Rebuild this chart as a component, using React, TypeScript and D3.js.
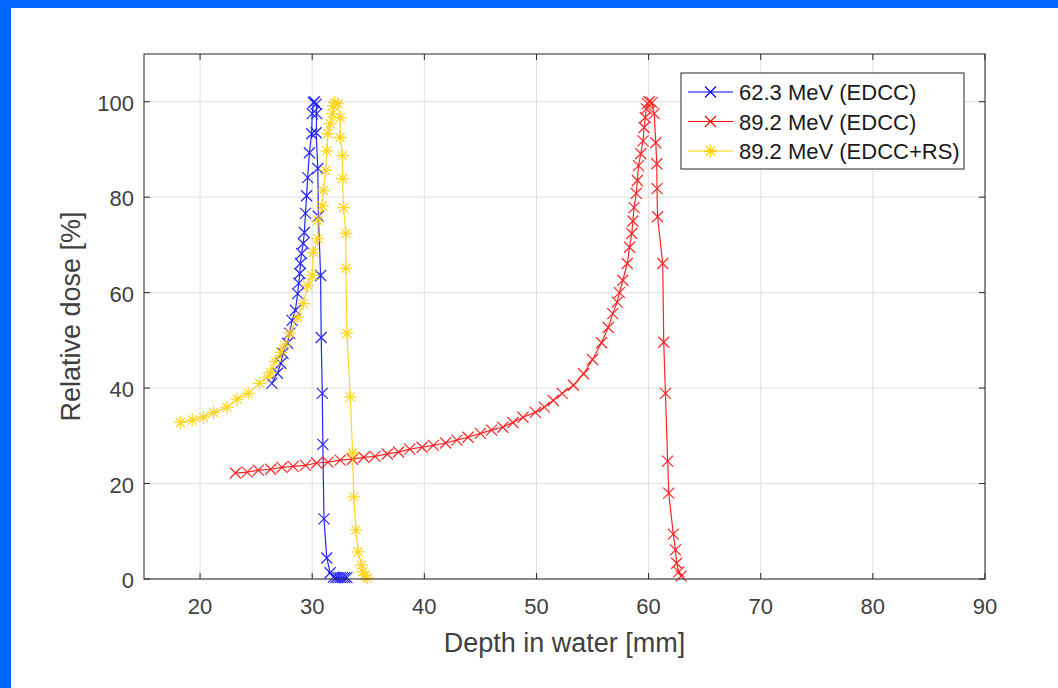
import React from "react";
import * as d3 from "d3";

const xTicks = [20, 30, 40, 50, 60, 70, 80, 90];
const yTicks = [0, 20, 40, 60, 80, 100];

const blue623: [number, number][] = [
  [26.4, 41.0], [26.9, 43.1], [27.2, 45.2], [27.4, 47.3], [27.8, 49.4], [28.0, 51.5],
  [28.2, 54.2], [28.5, 56.3], [28.7, 59.8], [28.8, 62.0], [28.9, 64.0], [28.95, 66.1],
  [29.05, 68.2], [29.2, 70.3], [29.3, 72.6], [29.4, 76.6], [29.5, 80.3], [29.6, 84.1],
  [29.75, 89.3], [29.95, 93.3], [30.0, 97.5], [30.1, 99.8], [30.2, 100.0],
  [30.35, 99.5], [30.4, 97.5], [30.35, 93.5], [30.5, 86.0], [30.55, 76.0],
  [30.75, 63.6], [30.8, 50.6], [30.9, 38.9], [30.95, 28.2], [31.05, 12.6],
  [31.3, 4.4], [31.6, 1.3], [31.9, 0.4], [32.1, 0.3], [32.3, 0.3], [32.5, 0.3],
  [32.7, 0.3], [32.9, 0.3], [33.1, 0.3],
];

const red892: [number, number][] = [
  [23.15, 22.2], [24.2, 22.4], [25.2, 22.8], [26.3, 23.0], [27.3, 23.4], [28.3, 23.6],
  [29.4, 23.8], [30.4, 24.3], [31.4, 24.5], [32.5, 24.9], [33.6, 25.1], [34.6, 25.5],
  [35.6, 25.7], [36.7, 26.2], [37.7, 26.6], [38.7, 27.2], [39.8, 27.6], [40.8, 28.0],
  [41.9, 28.5], [42.9, 29.1], [43.9, 29.7], [45.0, 30.5], [46.0, 31.2], [47.0, 31.8],
  [47.9, 32.8], [48.8, 33.9], [49.9, 34.9], [50.7, 36.0], [51.5, 37.4], [52.3, 38.9],
  [53.3, 40.6], [54.2, 43.0], [55.0, 46.0], [55.8, 49.5], [56.4, 52.7], [56.8, 55.6],
  [57.2, 58.0], [57.4, 60.0], [57.7, 62.6], [58.1, 66.1], [58.3, 69.5], [58.5, 72.4],
  [58.6, 75.0], [58.7, 77.8], [58.9, 80.8], [59.0, 83.5], [59.1, 86.6], [59.3, 89.1],
  [59.5, 91.8], [59.6, 94.6], [59.7, 96.7], [59.8, 98.5], [59.9, 99.6], [60.05, 100.0],
  [60.3, 99.8], [60.5, 97.5], [60.64, 91.4], [60.73, 87.0], [60.75, 81.8], [60.8, 75.9],
  [61.26, 66.1], [61.35, 49.6], [61.5, 38.9], [61.7, 24.7], [61.8, 18.0], [62.2, 9.4],
  [62.4, 6.1], [62.5, 3.3], [62.7, 1.5], [62.9, 0.6],
];

const yellow892rs: [number, number][] = [
  [18.25, 32.8], [19.3, 33.3], [20.3, 33.9], [21.2, 34.9], [22.4, 36.0], [23.3, 37.7],
  [24.3, 38.9], [25.3, 41.0], [26.0, 42.3], [26.3, 43.3], [26.7, 45.6], [27.2, 47.5],
  [27.6, 49.0], [28.0, 51.5], [28.7, 54.8], [29.2, 57.7], [29.6, 61.5], [30.0, 63.6],
  [30.1, 68.4], [30.5, 71.3], [30.5, 75.1], [30.9, 78.2], [31.0, 81.4], [31.2, 85.6],
  [31.3, 89.7], [31.4, 93.3], [31.6, 95.4], [31.8, 97.5], [31.9, 99.2], [32.0, 99.8],
  [32.3, 99.6], [32.5, 96.7], [32.5, 92.5], [32.7, 88.7], [32.7, 83.9], [32.8, 77.8],
  [33.0, 72.4], [33.0, 65.1], [33.1, 51.5], [33.4, 38.1], [33.6, 26.4], [33.7, 17.2],
  [33.9, 10.3], [34.1, 5.7], [34.4, 2.9], [34.5, 1.5], [34.7, 0.8], [34.9, 0.2],
];

const seriesNames = ["62.3 MeV (EDCC)", "89.2 MeV (EDCC)", "89.2 MeV (EDCC+RS)"];
const seriesColors = ["#0000ff", "#ff0000", "#ffd000"];
const seriesMarkers = ["x", "x", "star"];
const seriesData = [blue623, red892, yellow892rs];

const W = 1058;
const H = 688;
const L = 144, R = 985, T = 54, B = 579;

const xScale = d3.scaleLinear().domain([15, 90]).range([L, R]);
const yScale = d3.scaleLinear().domain([0, 110]).range([B, T]);
const lineGen = d3.line<[number, number]>().x(d => xScale(d[0])).y(d => yScale(d[1]));

function Marker({ x, y, type, color }: { x: number; y: number; type: string; color: string }) {
  const s = 5.5;
  if (type === "x") {
    return (
      <path d={`M${x - s},${y - s}L${x + s},${y + s}M${x - s},${y + s}L${x + s},${y - s}`}
        stroke={color} strokeWidth={1.2} fill="none" />
    );
  }
  const d = 4.5;
  return (
    <path d={`M${x - s - 1},${y}L${x + s + 1},${y}M${x},${y - s - 1}L${x},${y + s + 1}M${x - d},${y - d}L${x + d},${y + d}M${x - d},${y + d}L${x + d},${y - d}`}
      stroke={color} strokeWidth={1.3} fill="none" />
  );
}

export default function App() {
  const font = "'Liberation Sans', Arial, Helvetica, sans-serif";
  const axisColor = "#262626";
  const textColor = "#404040";
  const legX = 681, legY = 73, legW = 283, legH = 96;
  return (
    <svg width={W} height={H} style={{ position: "absolute", left: 0, top: 0 }} fontFamily={font}>
      <rect x={0} y={0} width={W} height={H} fill="#ffffff" />
      <rect x={0} y={0} width={W} height={8} fill="#0066ff" />
      <rect x={0} y={0} width={11} height={H} fill="#0066ff" />
      {/* grid */}
      {xTicks.map(t => (
        <line key={"gx" + t} x1={xScale(t)} x2={xScale(t)} y1={T} y2={B} stroke="#dfdfdf" strokeWidth={1} />
      ))}
      {yTicks.map(t => (
        <line key={"gy" + t} x1={L} x2={R} y1={yScale(t)} y2={yScale(t)} stroke="#dfdfdf" strokeWidth={1} />
      ))}
      {/* data */}
      <g>
        {seriesData.map((data, i) => (
          <g key={"s" + i} opacity={0.85}>
            <path d={lineGen(data) || ""} fill="none" stroke={seriesColors[i]} strokeWidth={1.2} />
            {data.map((p, j) => (
              <Marker key={j} x={xScale(p[0])} y={yScale(p[1])} type={seriesMarkers[i]} color={seriesColors[i]} />
            ))}
          </g>
        ))}
      </g>
      {/* axes box */}
      <rect x={L} y={T} width={R - L} height={B - T} fill="none" stroke={axisColor} strokeWidth={1} />
      {xTicks.map(t => (
        <g key={"tx" + t}>
          <line x1={xScale(t)} x2={xScale(t)} y1={B} y2={B - 6} stroke={axisColor} />
          <line x1={xScale(t)} x2={xScale(t)} y1={T} y2={T + 6} stroke={axisColor} />
          <text x={xScale(t)} y={614} textAnchor="middle" fontSize={22} fill={textColor}>{t}</text>
        </g>
      ))}
      {yTicks.map(t => (
        <g key={"ty" + t}>
          <line x1={L} x2={L + 6} y1={yScale(t)} y2={yScale(t)} stroke={axisColor} />
          <line x1={R} x2={R - 6} y1={yScale(t)} y2={yScale(t)} stroke={axisColor} />
          <text x={134} y={yScale(t) + 9} textAnchor="end" fontSize={22} fill={textColor}>{t}</text>
        </g>
      ))}
      <text x={(L + R) / 2} y={652} textAnchor="middle" fontSize={27} fill={textColor}>Depth in water [mm]</text>
      <text transform={`translate(80,${(T + B) / 2}) rotate(-90)`} textAnchor="middle" fontSize={27} fill={textColor}>Relative dose [%]</text>
      {/* legend */}
      <rect x={legX} y={legY} width={legW} height={legH} fill="#ffffff" stroke={axisColor} strokeWidth={1} />
      {seriesNames.map((n, i) => {
        const ly = legY + 19 + i * 29.5;
        return (
          <g key={"lg" + i}>
            <line x1={688} x2={733} y1={ly} y2={ly} stroke={seriesColors[i]} strokeWidth={1.2} />
            <Marker x={710.5} y={ly} type={seriesMarkers[i]} color={seriesColors[i]} />
            <text x={739} y={ly + 8} fontSize={22} fill="#1a1a1a">{n}</text>
          </g>
        );
      })}
    </svg>
  );
}
